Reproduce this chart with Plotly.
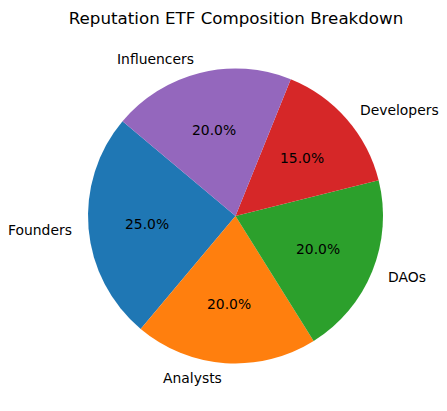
import numpy as np
import plotly.graph_objects as go

labels = ["Founders", "Analysts", "DAOs", "Developers", "Influencers"]
shares = [25, 20, 20, 15, 20]
colors = ["#1f77b4", "#ff7f0e", "#2ca02c", "#d62728", "#9467bd"]

W, H = 447, 411
off = 8                               # page body margin shifts the figure
cx, cy, r = 235.5 - off, H - (216 - off), 147.5   # pie centre (px from bottom-left) and radius
start = 140                           # matplotlib-style startangle

dom = dict(x=[(cx - r) / W, (cx + r) / W], y=[(cy - r) / H, (cy + r) / H])

pie = go.Pie(
    labels=labels, values=shares, sort=False, direction="counterclockwise",
    rotation=-start, domain=dom, textinfo="none",
    marker=dict(colors=colors, line=dict(width=0)),
    showlegend=False, hovertemplate="%{label}: %{percent:.1%}<extra></extra>")

fig = go.Figure(pie)

# labels at 1.1r and percentages at 0.6r, like matplotlib's pie
vals = np.array(shares, dtype=float)
mids = np.deg2rad(start + 360 * (np.cumsum(vals) - vals / 2) / vals.sum())
for lab, v, a in zip(labels, vals, mids):
    c, s = np.cos(a), np.sin(a)
    fig.add_annotation(
        x=(cx + 1.1 * r * c) / W, y=(cy + 1.1 * r * s) / H, xref="paper", yref="paper",
        text=lab, showarrow=False, xanchor="left" if c > 0 else "right", yanchor="middle",
        font=dict(size=13.9))
    fig.add_annotation(
        x=(cx + 0.6 * r * c) / W, y=(cy + 0.6 * r * s) / H, xref="paper", yref="paper",
        text=f"{100 * v / vals.sum():.1f}%", showarrow=False,
        xanchor="center", yanchor="middle", font=dict(size=13.9))

fig.update_layout(
    width=W, height=H,
    margin=dict(l=0, r=0, t=0, b=0),
    paper_bgcolor="white",
    font=dict(family="DejaVu Sans", color="black"),
    title=dict(text="Reputation ETF Composition Breakdown", x=(236 - off) / W, xanchor="center",
               y=1 - (18 - off) / H, yanchor="middle", font=dict(size=16.7)),
)
fig.write_html("out.html")
